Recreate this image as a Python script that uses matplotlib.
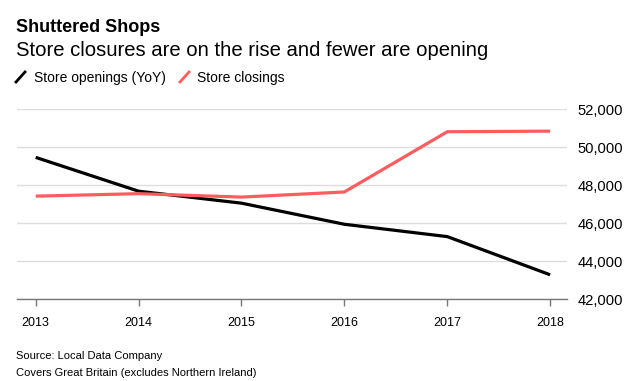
import matplotlib.pyplot as plt
from matplotlib.lines import Line2D

plt.rcParams['font.family'] = ['Liberation Sans', 'DejaVu Sans']

years = [2013, 2014, 2015, 2016, 2017, 2018]
openings = [49470, 47690, 47060, 45950, 45300, 43290]
closings = [47430, 47560, 47380, 47650, 50820, 50850]
yticks = [42000, 44000, 46000, 48000, 50000, 52000]

fig = plt.figure(figsize=(6.4, 3.81), dpi=100)
ax = fig.add_axes([0.027, 0.2144, 0.8587, 0.4987])

ax.plot(years, openings, color='black', linewidth=2.3, solid_capstyle='butt')
ax.plot(years, closings, color='#ff5c5f', linewidth=2.3, solid_capstyle='butt')

ax.set_xlim(2013 - 0.179, 2018 + 0.162)
ax.set_ylim(42000, 52000)
ax.set_xticks(years)
ax.set_xticklabels([str(y) for y in years], fontsize=9)
ax.set_yticks(yticks)
ax.set_yticklabels([f'{v:,}' for v in yticks], fontsize=10.6, ha='left')
ax.yaxis.tick_right()
ax.tick_params(axis='y', length=0, pad=7.5)
ax.tick_params(axis='x', length=5, width=1, color='#777777', pad=8, direction='out')
for s in ['top', 'left', 'right']:
    ax.spines[s].set_visible(False)
ax.spines['bottom'].set_color('#777777')
ax.spines['bottom'].set_linewidth(1)
ax.grid(axis='y', color='#dddddd', linewidth=1)
ax.set_axisbelow(True)

fig.text(0.025, 0.915, 'Shuttered Shops', fontsize=13, fontweight='bold', va='baseline')
fig.text(0.025, 0.852, 'Store closures are on the rise and fewer are opening', fontsize=14.6, va='baseline')

# legend: short slanted strokes as markers
fig.add_artist(Line2D([16 / 640, 25 / 640], [1 - 82 / 381, 1 - 72 / 381], color='black', linewidth=2))
fig.text(34 / 640, 1 - 82 / 381, 'Store openings (YoY)', fontsize=10, va='baseline')
fig.add_artist(Line2D([180 / 640, 189 / 640], [1 - 82 / 381, 1 - 72 / 381], color='#ff5c5f', linewidth=2))
fig.text(197 / 640, 1 - 82 / 381, 'Store closings', fontsize=10, va='baseline')

fig.text(0.025, 1 - 359 / 381, 'Source: Local Data Company', fontsize=8, va='baseline')
fig.text(0.025, 1 - 376 / 381, 'Covers Great Britain (excludes Northern Ireland)', fontsize=8, va='baseline')

fig.savefig('out.png', dpi=100)
